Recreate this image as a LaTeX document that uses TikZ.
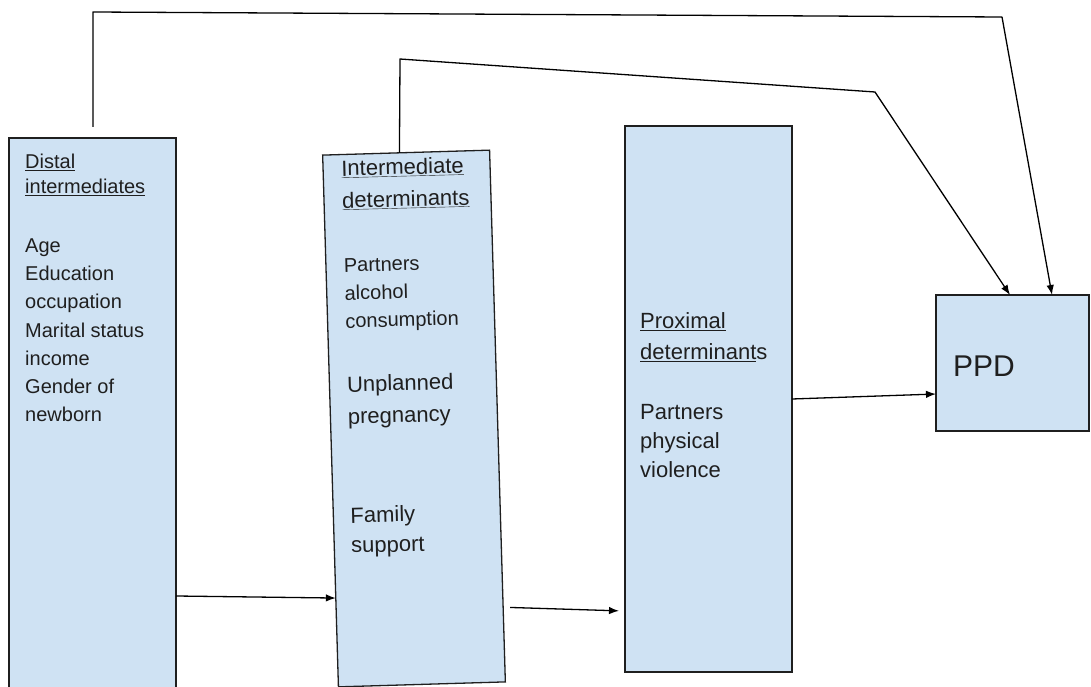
\documentclass[tikz,border=0pt]{standalone}
\usepackage{fontspec}
\setmainfont{Liberation Sans}
\usetikzlibrary{arrows.meta,calc}
\definecolor{boxfill}{HTML}{CFE2F3}
\definecolor{ink}{HTML}{1F1F1F}
\begin{document}
\begin{tikzpicture}[x=1pt,y=-1pt,
  box/.style={draw=ink, line width=1.3pt, fill=boxfill, inner sep=0pt, outer sep=0pt},
  lbl/.style={text=ink, align=left, inner sep=0pt, anchor=north west},
  link/.style={draw=black, line width=1.3pt, line join=round},
  arr/.style={link, -{Latex[length=10pt,width=7.5pt]}}]
\useasboundingbox (0,0) rectangle (1091,687);

% boxes
\node[box, minimum width=167pt, minimum height=552pt, anchor=north west] (b1) at (9,138) {};
\node[box, minimum width=167pt, minimum height=532pt, rotate=1.7] (b2) at (414,418.5) {};
\node[box, minimum width=167pt, minimum height=546pt, anchor=north west] (b3) at (625,126) {};
\node[box, minimum width=153pt, minimum height=136pt, anchor=north west] (b4) at (936,295) {};

% texts
\node[lbl, font=\fontsize{20}{28.3}\selectfont] (t1) at (25,153.5)
  {\underline{Distal}\\[-3.3pt]\underline{intermediates}\\[30.7pt]Age\\Education\\occupation\\Marital status\\income\\Gender of\\newborn};
\node[lbl, rotate=1.5, font=\fontsize{20}{28}\selectfont] (t2) at (341,160)
  {{\fontsize{22}{28}\selectfont\underline{Intermediate}}\\[4pt]
   {\fontsize{22}{28}\selectfont\underline{determinants}}\\[36pt]
   Partners\\alcohol\\consumption\\[36pt]
   {\fontsize{22}{28}\selectfont Unplanned}\\[4pt]
   {\fontsize{22}{28}\selectfont pregnancy}\\[71pt]
   {\fontsize{22}{28}\selectfont Family}\\[2pt]
   {\fontsize{22}{28}\selectfont support}};
\node[lbl, font=\fontsize{22}{29}\selectfont] (t3) at (640,312)
  {\underline{Proximal}\\[2pt]\underline{determinant}s\\[31pt]Partners\\physical\\violence};
\node[text=ink, inner sep=0pt, anchor=base west, font=\fontsize{30}{36}\selectfont] (t4) at (953,376) {PPD};

% bend points
\coordinate (k1) at (93,12);
\coordinate (k2) at (1002,17);
\coordinate (k3) at (400,59);
\coordinate (k4) at (875,92);

% connectors
\draw[arr] ($(b1.north east)!0.8297!(b1.south east)$) -- ($(b2.north west)!0.833!(b2.south west)$);
\draw[arr] ($(b2.north east)!0.86!(b2.south east) + (7,0)$) -- ($(b3.north west)!0.888!(b3.south west) + (-6,0)$);
\draw[arr] ($(b3.north east)!0.5!(b3.south east)$) -- ($(b4.north west)!0.728!(b4.south west)$);
\draw[arr] ([shift={(84,-11)}]b1.north west) -- (k1) -- (k2) -- ([xshift=116pt]b4.north west);
\draw[arr] ($(b2.north west)!0.46!(b2.north east)$) -- (k3) -- (k4) -- ([xshift=74pt]b4.north west);
\end{tikzpicture}
\end{document}
